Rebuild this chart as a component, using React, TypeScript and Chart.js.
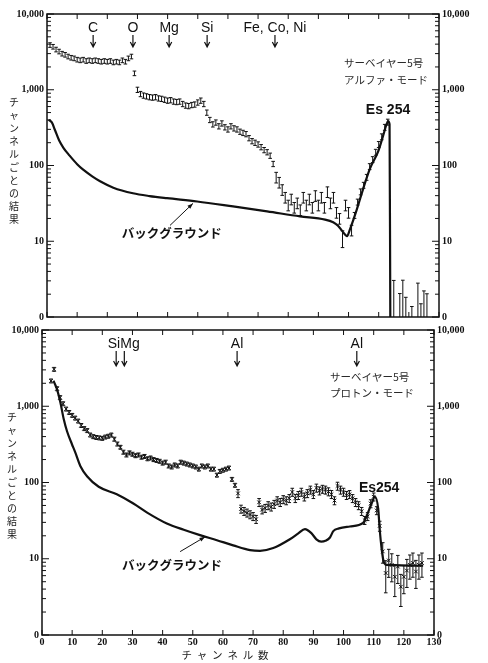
import React, { useEffect, useRef } from "react";
import { Chart, registerables } from "chart.js";

Chart.register(...registerables);

const INK = "#111";

// ---------- axes ----------
const xTickValues = [0, 10, 20, 30, 40, 50, 60, 70, 80, 90, 100, 110, 120, 130];
const yTickValues = [1, 10, 100, 1000, 10000];
const yTickLabels = ["0", "10", "100", "1,000", "10,000"];
const minorMultipliers = [2, 3, 4, 5, 6, 7, 8, 9];

// ---------- top panel: alpha mode ----------
const alphaChannels = [
  1, 2, 3, 4, 5, 6, 7, 8, 9, 10,
  11, 12, 13, 14, 15, 16, 17, 18, 19, 20,
  21, 22, 23, 24, 25, 26, 27, 28, 29, 30,
  31, 32, 33, 34, 35, 36, 37, 38, 39, 40,
  41, 42, 43, 44, 45, 46, 47, 48, 49, 50,
  51, 52, 53, 54, 55, 56, 57, 58, 59, 60,
  61, 62, 63, 64, 65, 66, 67, 68, 69, 70,
  71, 72, 73, 74, 75, 76, 77, 78, 79, 80,
  81, 82, 83, 84, 85, 86, 87, 88, 89, 90,
  91, 92, 93, 94, 95, 96, 97, 98, 99, 100,
  101, 102, 103, 104, 105, 106, 107, 108, 109, 110,
  111, 112, 113,
  115, 117, 118, 119, 121, 123, 124, 125, 126,
];
const alphaCounts = [
  3900, 3700, 3400, 3200, 3000, 2900, 2750, 2650, 2600, 2500,
  2450, 2500, 2400, 2450, 2400, 2450, 2400, 2350, 2400, 2350,
  2400, 2300, 2350, 2300, 2450, 2350, 2600, 2750, 1650, 1000,
  880, 840, 820, 800, 790, 800, 770, 760, 740, 720,
  730, 700, 690, 700, 650, 620, 610, 630, 640, 680,
  720, 650, 500, 400, 350, 370, 330, 360, 320, 300,
  330, 310, 300, 280, 270, 260, 230, 210, 200, 190,
  175, 160, 150, 135, 105, 70, 60, 48, 38, 30,
  36, 28, 32, 26, 38, 30, 36, 28, 40, 30,
  38, 28, 45, 32, 38, 24, 20, 11, 30, 24,
  14, 22, 33, 45, 55, 70, 97, 120, 150, 190,
  240, 320, 375,
  1.6, 1.2, 1.7, 1.3, 1.1, 1.6, 1.15, 1.3, 1.5,
];
const alphaErrPct = [
  7, 7, 7, 7, 7, 7, 7, 7, 7, 7,
  7, 7, 7, 7, 7, 7, 7, 7, 7, 7,
  7, 7, 7, 7, 7, 7, 7, 7, 7, 8,
  8, 8, 8, 8, 8, 8, 8, 8, 8, 8,
  8, 8, 8, 8, 8, 8, 8, 8, 8, 8,
  8, 8, 8, 8, 8, 8, 8, 8, 8, 8,
  8, 8, 8, 8, 8, 8, 8, 8, 8, 8,
  8, 8, 8, 8, 8, 16, 16, 16, 16, 16,
  16, 16, 16, 16, 16, 16, 16, 16, 16, 16,
  16, 16, 16, 16, 16, 16, 16, 25, 16, 16,
  16, 9, 9, 9, 9, 9, 9, 9, 9, 9,
  9, 9, 9,
  90, 70, 80, 40, 25, 75, 30, 70, 35,
];
const alphaBgChannels = [
  0.5, 1.6, 2.7, 4, 5.5, 7.5, 10, 12, 15, 17.6, 22, 28.5, 34, 39.8, 49.8, 61.7,
  73, 83.9, 92.2, 94.9, 96.5, 98, 99.5, 100.5, 102.7, 104.9, 107.1, 109.8,
  111.5, 112.5, 113.1, 113.6, 113.85,
];
const alphaBgCounts = [
  400, 370, 290, 215, 170, 135, 104, 88, 72, 62, 51, 43, 39.5, 37, 33.5, 28.8,
  24.8, 21.3, 19.3, 17.8, 16, 13.5, 11.7, 14.5, 26, 50, 91, 152,
  250, 340, 385, 350, 1,
];
const alphaElementLabels = ["C", "O", "Mg", "Si", "Fe, Co, Ni"];
const alphaElementChannels = [15.3, 28.5, 40.5, 53.1, 75.6];
const alphaNote = ["サーベイヤー5号", "アルファ・モード"];

// ---------- bottom panel: proton mode ----------
const protonChannels = [
  3, 4, 5, 6, 7, 8, 9, 10, 11, 12,
  13, 14, 15, 16, 17, 18, 19, 20, 21, 22,
  23, 24, 25, 26, 27, 28, 29, 30, 31, 32,
  33, 34, 35, 36, 37, 38, 39, 40, 41, 42,
  43, 44, 45, 46, 47, 48, 49, 50, 51, 52,
  53, 54, 55, 56, 57, 58, 59, 60, 61, 62,
  63, 64, 65, 66, 67, 68, 69, 70, 71, 72,
  73, 74, 75, 76, 77, 78, 79, 80, 81, 82,
  83, 84, 85, 86, 87, 88, 89, 90, 91, 92,
  93, 94, 95, 96, 97, 98, 99, 100, 101, 102,
  103, 104, 105, 106, 107, 108, 109, 110, 111, 112,
  113, 114, 115, 116, 117, 118, 119, 120, 121, 122,
  123, 124, 125, 126,
];
const protonCounts = [
  2150, 3050, 1700, 1300, 1080, 920, 830, 760, 700, 640,
  560, 510, 480, 420, 400, 390, 385, 380, 395, 405,
  420, 370, 320, 290, 250, 230, 245, 235, 225, 230,
  215, 220, 205, 210, 200, 195, 190, 180, 185, 165,
  160, 170, 165, 185, 180, 175, 170, 165, 160, 150,
  165, 160, 165, 150, 150, 125, 140, 145, 150, 155,
  110, 92, 72, 45, 42, 40, 38, 36, 33, 55,
  44, 46, 50, 48, 52, 58, 55, 60, 58, 62,
  75, 62, 68, 75, 65, 72, 80, 70, 85, 78,
  82, 80, 76, 70, 58, 90, 80, 75, 68, 70,
  62, 55, 50, 42, 32, 36, 53, 65, 43, 27,
  12.5, 6.5, 9.5, 8.3, 5.8, 7.9, 4.3, 5.8, 7, 8.3,
  8.8, 6.8, 8.3, 8.8,
];
const protonErrPct = [
  6, 6, 6, 6, 6, 6, 6, 6, 6, 6,
  6, 6, 6, 6, 6, 6, 6, 6, 6, 6,
  6, 6, 6, 6, 6, 6, 6, 6, 6, 6,
  6, 6, 6, 6, 6, 6, 6, 6, 6, 6,
  6, 6, 6, 6, 6, 6, 6, 6, 6, 6,
  6, 6, 6, 6, 6, 6, 6, 6, 6, 6,
  6, 6, 12, 12, 12, 12, 12, 12, 12, 12,
  12, 12, 12, 12, 12, 12, 12, 12, 12, 12,
  12, 12, 12, 12, 12, 12, 12, 12, 12, 12,
  12, 12, 12, 12, 12, 12, 12, 12, 12, 12,
  12, 12, 12, 12, 12, 12, 12, 12, 12, 15,
  30, 45, 40, 40, 45, 40, 45, 40, 40, 35,
  35, 40, 35, 35,
];
const protonBgChannels = [
  3.8, 4.9, 6.1, 7.2, 8.3, 9.9, 11, 12.7, 15, 18.8, 24.8, 30.3, 35, 41.4, 47,
  52.4, 58, 63.4, 69, 72.3, 76.7, 82.2, 85, 87.2, 89.4, 91, 92.6, 94, 95.5,
  96.6, 98.5, 102.1, 106.5, 107.6, 109.3, 110.4, 111.5, 112, 113.1, 114.2, 126.4,
];
const protonBgCounts = [
  2160, 1700, 1120, 680, 470, 320, 250, 165, 120, 88, 70, 53, 40, 29, 24,
  20.4, 17.5, 15, 13, 12.7, 13.8, 18, 21.5, 24.5, 21.5, 18, 16.8, 17.2, 19,
  23, 25, 26.5, 29.5, 36, 53, 65, 45, 24, 10, 8.3, 8.1,
];
const protonElementLabels = ["SiMg", "Al", "Al"];
const protonLabelChannels = [27.1, 64.7, 104.4];
const protonArrowChannels = [24.6, 27.3, 64.7, 104.4];
const protonNote = ["サーベイヤー5号", "プロトン・モード"];

const yTitle = "チャンネルごとの結果";
const xTitle = "チャンネル数";
const bgLabel = "バックグラウンド";

// ---------- helpers ----------
const tickFont = { family: "'Liberation Serif', 'DejaVu Serif', serif", size: 10, weight: "bold" as const };
const latinFont = "'Liberation Sans', Arial, sans-serif";
const cjkFont = "'Noto Sans CJK JP', sans-serif";

function pts(xs: number[], ys: number[]) {
  return xs.map((x, i) => ({ x, y: ys[i] }));
}

function arrowDown(ctx: CanvasRenderingContext2D, x: number, y1: number, y2: number) {
  ctx.beginPath();
  ctx.moveTo(x, y1);
  ctx.lineTo(x, y2);
  ctx.moveTo(x - 2.6, y2 - 5);
  ctx.lineTo(x, y2);
  ctx.lineTo(x + 2.6, y2 - 5);
  ctx.stroke();
}

function arrowTo(ctx: CanvasRenderingContext2D, x1: number, y1: number, x2: number, y2: number) {
  const a = Math.atan2(y2 - y1, x2 - x1);
  ctx.beginPath();
  ctx.moveTo(x1, y1);
  ctx.lineTo(x2, y2);
  ctx.stroke();
  ctx.beginPath();
  ctx.moveTo(x2, y2);
  ctx.lineTo(x2 - 6 * Math.cos(a - 0.35), y2 - 6 * Math.sin(a - 0.35));
  ctx.lineTo(x2 - 6 * Math.cos(a + 0.35), y2 - 6 * Math.sin(a + 0.35));
  ctx.closePath();
  ctx.fill();
}

type Decor = {
  labels: string[];
  labelCh: number[];
  arrowCh: number[];
  labelDy: number;
  arrowTop: number;
  arrowBot: number;
  note: string[];
  noteDx: number;
  noteDy: number[];
  es: string;
  esAt: [number, number];
  bgAt: [number, number];
  bgArrow: [number, number, number, number];
  yTitleX: number;
  yTitleDy: number;
  showXTitle: boolean;
};

function decorPlugin(d: Decor) {
  return {
    id: "decor",
    afterDatasetsDraw(chart: any) {
      const ctx: CanvasRenderingContext2D = chart.ctx;
      const ca = chart.chartArea;
      const ys = chart.scales.y;
      ctx.save();
      ctx.beginPath();
      ctx.rect(ca.left, ca.top, ca.right - ca.left, ca.bottom - ca.top);
      ctx.clip();
      ctx.strokeStyle = INK;
      ctx.lineWidth = 1;
      chart.data.datasets.forEach((ds: any, i: number) => {
        const errs: number[] | undefined = ds.errPct;
        if (!errs) return;
        const meta = chart.getDatasetMeta(i);
        meta.data.forEach((p: any, j: number) => {
          const v = ds.data[j].y;
          const e = (v * errs[j]) / 100;
          const yt = ys.getPixelForValue(v + e);
          const yb = ys.getPixelForValue(Math.max(v - e, 0.2));
          ctx.beginPath();
          ctx.moveTo(p.x, yt);
          ctx.lineTo(p.x, yb);
          ctx.moveTo(p.x - 1.8, yt);
          ctx.lineTo(p.x + 1.8, yt);
          ctx.moveTo(p.x - 1.8, yb);
          ctx.lineTo(p.x + 1.8, yb);
          ctx.stroke();
        });
      });
      ctx.restore();
    },
    afterDraw(chart: any) {
      const ctx: CanvasRenderingContext2D = chart.ctx;
      const ca = chart.chartArea;
      const xs = chart.scales.x;
      const ys = chart.scales.y;
      ctx.save();
      ctx.strokeStyle = INK;
      ctx.fillStyle = INK;
      // frame
      ctx.lineWidth = 1.5;
      ctx.strokeRect(ca.left, ca.top, ca.right - ca.left, ca.bottom - ca.top);
      // ticks (inward)
      ctx.lineWidth = 1;
      ctx.beginPath();
      yTickValues.forEach((dv, k) => {
        const py = ys.getPixelForValue(dv);
        ctx.moveTo(ca.left, py); ctx.lineTo(ca.left + 7, py);
        ctx.moveTo(ca.right, py); ctx.lineTo(ca.right - 7, py);
        if (k < yTickValues.length - 1) {
          minorMultipliers.forEach((m) => {
            const my = ys.getPixelForValue(dv * m);
            ctx.moveTo(ca.left, my); ctx.lineTo(ca.left + 4, my);
            ctx.moveTo(ca.right, my); ctx.lineTo(ca.right - 4, my);
          });
        }
      });
      xTickValues.forEach((v) => {
        const px = xs.getPixelForValue(v);
        ctx.moveTo(px, ca.bottom); ctx.lineTo(px, ca.bottom - 5);
        ctx.moveTo(px, ca.top); ctx.lineTo(px, ca.top + 5);
      });
      ctx.stroke();

      // element labels and arrows
      ctx.font = `14px ${latinFont}`;
      ctx.textAlign = "center";
      ctx.textBaseline = "middle";
      d.labels.forEach((t, i) => {
        ctx.fillText(t, xs.getPixelForValue(d.labelCh[i]), ca.top + d.labelDy);
      });
      ctx.lineWidth = 1.2;
      d.arrowCh.forEach((c) => {
        arrowDown(ctx, xs.getPixelForValue(c), ca.top + d.arrowTop, ca.top + d.arrowBot);
      });

      // note (top right)
      ctx.font = `10.5px ${cjkFont}`;
      ctx.textAlign = "left";
      ctx.fillStyle = "#2a2a2a";
      d.note.forEach((t, i) => {
        ctx.fillText(t, ca.right - d.noteDx, ca.top + d.noteDy[i]);
      });
      ctx.fillStyle = INK;

      // Es 254
      ctx.font = `bold 14px ${latinFont}`;
      ctx.textAlign = "center";
      ctx.fillText(d.es, xs.getPixelForValue(d.esAt[0]), ys.getPixelForValue(d.esAt[1]));

      // background label & arrow
      ctx.font = `bold 12.5px ${cjkFont}`;
      ctx.fillText(bgLabel, xs.getPixelForValue(d.bgAt[0]), ys.getPixelForValue(d.bgAt[1]));
      ctx.lineWidth = 1;
      arrowTo(
        ctx,
        xs.getPixelForValue(d.bgArrow[0]), ys.getPixelForValue(d.bgArrow[1]),
        xs.getPixelForValue(d.bgArrow[2]), ys.getPixelForValue(d.bgArrow[3])
      );

      // vertical y title
      ctx.font = `10px ${cjkFont}`;
      ctx.fillStyle = "#222";
      const chars = Array.from(yTitle);
      const step = 13;
      const mid = (ca.top + ca.bottom) / 2 + d.yTitleDy;
      chars.forEach((c, i) => {
        ctx.fillText(c, d.yTitleX, mid + (i - (chars.length - 1) / 2) * step);
      });

      // x title
      if (d.showXTitle) {
        ctx.font = `10.5px ${cjkFont}`;
        const xc = Array.from(xTitle);
        const cx = (ca.left + ca.right) / 2 - 13;
        xc.forEach((c, i) => {
          ctx.fillText(c, cx + (i - (xc.length - 1) / 2) * 15.3, ca.bottom + 20);
        });
      }
      ctx.restore();
    },
  };
}

function makeConfig(opts: {
  showX: boolean;
  leftW: number;
  rightW: number;
  xH: number;
  padTop: number;
  padBottom: number;
  bg: { x: number; y: number }[];
  data: { x: number; y: number }[];
  errs: number[];
  crosses: boolean;
  decor: Decor;
}): any {
  const yAxis = (pos: "left" | "right", w: number) => ({
    type: "logarithmic",
    position: pos,
    min: 1,
    max: 10000,
    grid: { display: false, drawTicks: false, tickLength: 0 },
    border: { display: false },
    afterBuildTicks: (s: any) => {
      s.ticks = yTickValues.map((v) => ({ value: v }));
    },
    ticks: {
      font: tickFont,
      color: INK,
      padding: 3,
      autoSkip: false,
      callback: (v: any) => {
        const k = yTickValues.indexOf(Number(v));
        return k >= 0 ? yTickLabels[k] : "";
      },
    },
    afterFit: (s: any) => {
      s.width = w;
    },
  });
  const xAxis: any = {
    type: "linear",
    min: 0,
    max: 130,
    display: opts.showX,
    grid: { display: false, drawTicks: false, tickLength: 0 },
    border: { display: false },
    afterBuildTicks: (s: any) => {
      s.ticks = xTickValues.map((v) => ({ value: v }));
    },
    ticks: {
      font: tickFont,
      color: INK,
      padding: 1,
      maxRotation: 0,
      autoSkip: false,
      callback: (v: any) => String(v),
    },
  };
  if (opts.showX) {
    xAxis.afterFit = (s: any) => {
      s.height = opts.xH;
    };
  }
  return {
    type: "line",
    data: {
      datasets: [
        {
          data: opts.bg,
          borderColor: INK,
          borderWidth: 2.2,
          pointRadius: 0,
          cubicInterpolationMode: "monotone",
          fill: false,
        },
        {
          data: opts.data,
          showLine: false,
          borderColor: INK,
          backgroundColor: INK,
          pointStyle: "crossRot",
          pointRadius: opts.crosses ? 2.6 : 0,
          pointBorderWidth: 1,
          errPct: opts.errs,
        },
      ],
    },
    options: {
      responsive: false,
      animation: false,
      events: [],
      layout: { padding: { top: opts.padTop, bottom: opts.padBottom, left: 0, right: 0 } },
      plugins: { legend: { display: false }, tooltip: { enabled: false } },
      scales: { x: xAxis, y: yAxis("left", opts.leftW), y2: yAxis("right", opts.rightW) },
    },
    plugins: [decorPlugin(opts.decor)],
  };
}

export default function App() {
  const topRef = useRef<HTMLCanvasElement>(null);
  const botRef = useRef<HTMLCanvasElement>(null);

  useEffect(() => {
    const top = new Chart(
      topRef.current!,
      makeConfig({
        showX: false,
        leftW: 47,
        rightW: 49,
        xH: 0,
        padTop: 14,
        padBottom: 6,
        bg: pts(alphaBgChannels, alphaBgCounts),
        data: pts(alphaChannels, alphaCounts),
        errs: alphaErrPct,
        crosses: false,
        decor: {
          labels: alphaElementLabels,
          labelCh: alphaElementChannels,
          arrowCh: alphaElementChannels,
          labelDy: 14,
          arrowTop: 21,
          arrowBot: 33,
          note: alphaNote,
          noteDx: 95,
          noteDy: [49, 66],
          es: "Es 254",
          esAt: [113.1, 540],
          bgAt: [41.4, 12.9],
          bgArrow: [40.8, 16.2, 48.4, 31.6],
          yTitleX: 14,
          yTitleDy: -5,
          showXTitle: false,
        },
      })
    );
    const bot = new Chart(
      botRef.current!,
      makeConfig({
        showX: true,
        leftW: 42,
        rightW: 54,
        xH: 28,
        padTop: 12,
        padBottom: 0,
        bg: pts(protonBgChannels, protonBgCounts),
        data: pts(protonChannels, protonCounts),
        errs: protonErrPct,
        crosses: true,
        decor: {
          labels: protonElementLabels,
          labelCh: protonLabelChannels,
          arrowCh: protonArrowChannels,
          labelDy: 14,
          arrowTop: 21,
          arrowBot: 36,
          note: protonNote,
          noteDx: 104,
          noteDy: [47, 63],
          es: "Es254",
          esAt: [111.8, 84],
          bgAt: [43.1, 8.3],
          bgArrow: [45.8, 12.4, 54.1, 19.4],
          yTitleX: 12,
          yTitleDy: -7,
          showXTitle: true,
        },
      })
    );
    return () => {
      top.destroy();
      bot.destroy();
    };
  }, []);

  return (
    <div style={{ position: "absolute", left: 0, top: 0, width: 488, height: 663, background: "#fff" }}>
      <canvas ref={topRef} width={488} height={326} style={{ position: "absolute", left: 0, top: 0 }} />
      <canvas ref={botRef} width={488} height={345} style={{ position: "absolute", left: 0, top: 318 }} />
    </div>
  );
}
